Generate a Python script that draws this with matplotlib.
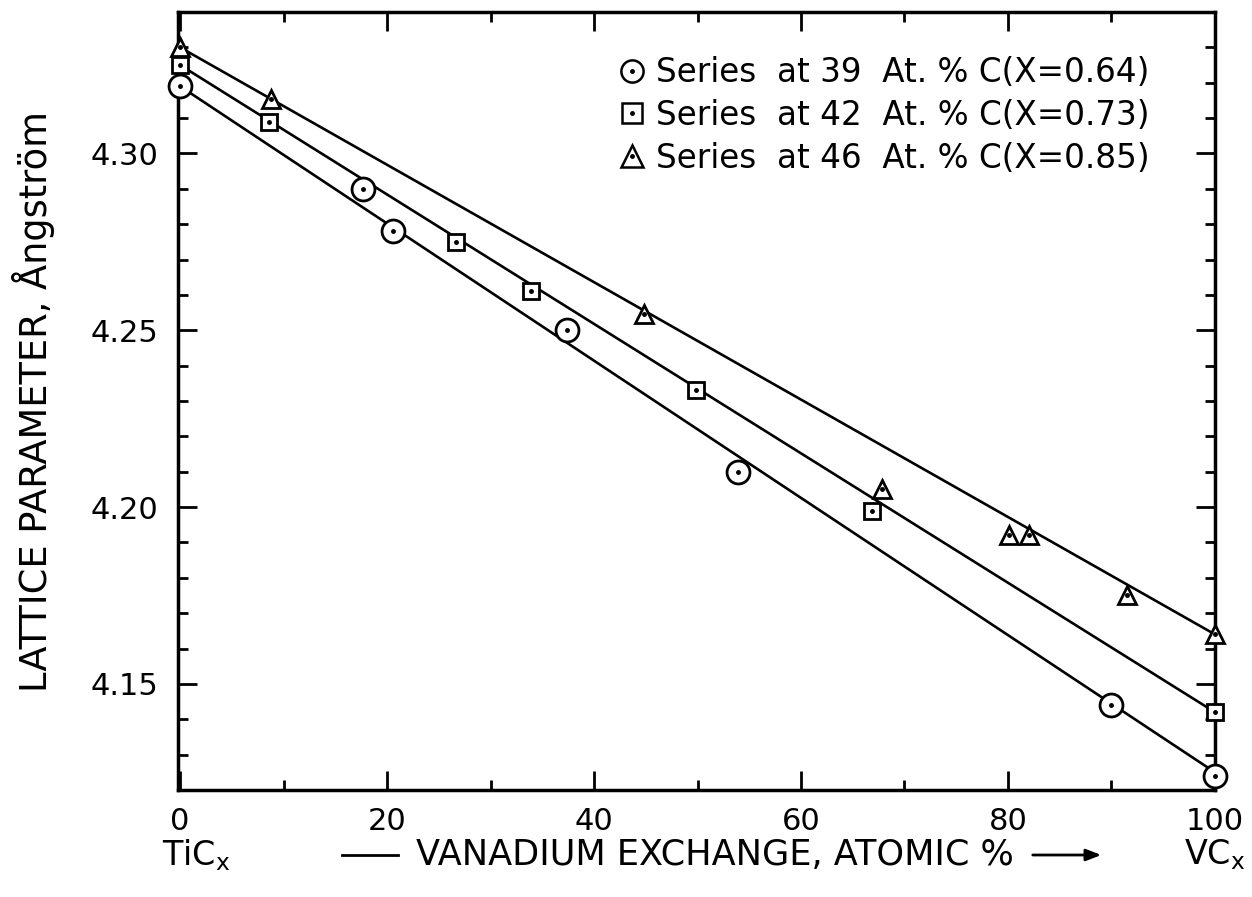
import matplotlib
matplotlib.use("Agg")
import matplotlib.pyplot as plt
from matplotlib.lines import Line2D
from matplotlib.ticker import MultipleLocator

# ---- data ----
x_circ = [0, 17.7, 20.6, 37.4, 53.9, 90.0, 100]
y_circ = [4.319, 4.290, 4.278, 4.250, 4.210, 4.144, 4.124]
x_sq = [0, 8.6, 26.7, 33.9, 49.9, 66.9, 100]
y_sq = [4.325, 4.309, 4.275, 4.261, 4.233, 4.199, 4.142]
x_tri = [0, 8.8, 44.8, 67.8, 80.1, 82.0, 91.5, 100]
y_tri = [4.330, 4.3155, 4.2545, 4.2051, 4.192, 4.192, 4.175, 4.164]
# fitted straight lines (end points)
fit_x = [0, 100]
fit_circ = [4.319, 4.125]
fit_sq = [4.325, 4.142]
fit_tri = [4.330, 4.164]
labels = ["Series  at 39  At. % C(X=0.64)",
          "Series  at 42  At. % C(X=0.73)",
          "Series  at 46  At. % C(X=0.85)"]
y_ticks = [4.15, 4.20, 4.25, 4.30]
x_ticks = [0, 20, 40, 60, 80, 100]

fig = plt.figure(figsize=(12.52, 8.97), dpi=100)
ax = fig.add_axes([0.1422, 0.1193, 0.9704 - 0.1422, 0.9866 - 0.1193])

lw = 1.9
for fy in (fit_circ, fit_sq, fit_tri):
    ax.plot(fit_x, fy, color="black", lw=lw, zorder=2)

styles = [("o", 16.5, 16.0, x_circ, y_circ),
          ("s", 11.5, 14.0, x_sq, y_sq),
          ("^", 13.0, 16.5, x_tri, y_tri)]
handles = []
for (m, ms, lms, xs, ys) in styles:
    ax.plot(xs, ys, ls="none", marker=m, ms=ms, mfc="white", mec="black",
            mew=2.0, zorder=3, clip_on=False)
    ax.plot(xs, ys, ls="none", marker="o", ms=2.5, mfc="black", mec="black",
            zorder=4, clip_on=False)
    h1 = Line2D([], [], ls="none", marker=m, ms=lms, mfc="white", mec="black", mew=1.8)
    h2 = Line2D([], [], ls="none", marker="o", ms=2.5, mfc="black", mec="black")
    handles.append((h1, h2))

ax.legend(handles, labels, loc="upper right",
          bbox_to_anchor=(1150 / 1252, 1 - 56 / 897), bbox_transform=fig.transFigure,
          frameon=False, fontsize=23.5, handlelength=0.8, handletextpad=0.35,
          labelspacing=0.3, borderaxespad=0.0, borderpad=0.0)

ax.set_xlim(-0.2, 100)
ax.set_ylim(4.12, 4.34)
ax.set_xticks(x_ticks)
ax.set_xticklabels([str(v) for v in x_ticks])
ax.set_yticks(y_ticks)
ax.set_yticklabels([f"{v:.2f}" for v in y_ticks])
ax.xaxis.set_minor_locator(MultipleLocator(10))
ax.yaxis.set_minor_locator(MultipleLocator(0.01))
ax.tick_params(which="both", direction="in", top=True, right=True, width=2,
               labelsize=22)
ax.tick_params(axis="y", pad=14)
ax.tick_params(axis="x", pad=12)
ax.tick_params(which="major", length=14)
ax.tick_params(which="minor", length=7)
for s in ax.spines.values():
    s.set_linewidth(2.5)

ax.set_ylabel("LATTICE PARAMETER, Ångström", fontsize=26.5, labelpad=26)

yb = 1 - 855 / 897
fig.text(196 / 1252, yb, r"TiC$_\mathregular{x}$", fontsize=24,
         ha="center", va="center")
fig.text(1215 / 1252, yb, r"VC$_\mathregular{x}$", fontsize=24,
         ha="center", va="center")
fig.text(416 / 1252, yb, "VANADIUM EXCHANGE, ATOMIC %", fontsize=25.3,
         ha="left", va="center")
fig.add_artist(Line2D([342 / 1252, 398 / 1252], [yb] * 2,
                      transform=fig.transFigure, color="black", lw=2))
ax.annotate("", xy=(1104 / 1252, yb), xytext=(1030 / 1252, yb),
            xycoords="figure fraction", textcoords="figure fraction",
            arrowprops=dict(arrowstyle="-|>,head_length=0.9,head_width=0.35",
                            color="black", lw=2))

fig.savefig("out.png", dpi=100)
